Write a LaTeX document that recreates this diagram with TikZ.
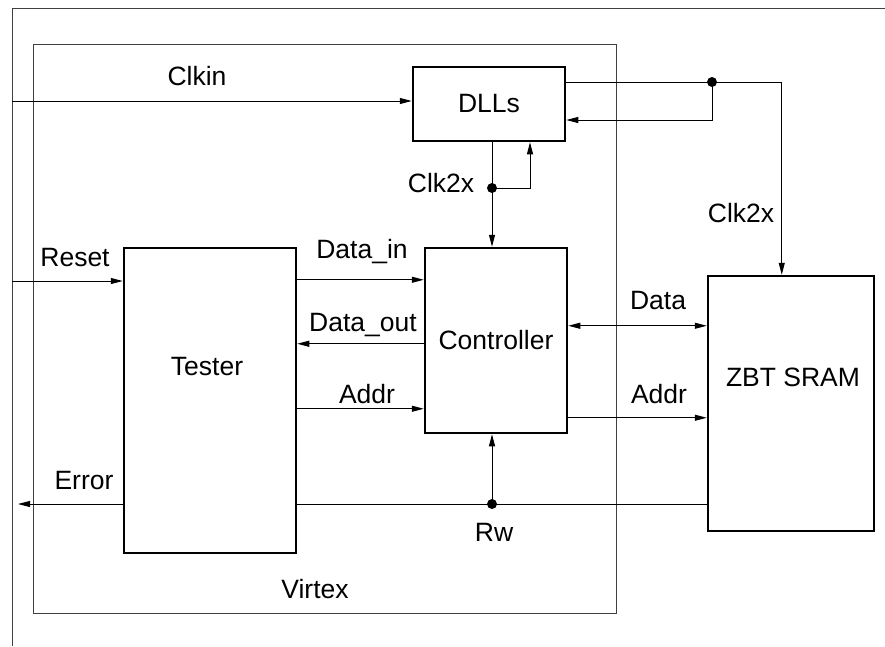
\documentclass[tikz,border=0pt]{standalone}
\usepackage{fontspec}
\setmainfont{Liberation Sans}
\usetikzlibrary{calc}
\usetikzlibrary{arrows.meta}

\begin{document}
\begin{tikzpicture}[line cap=butt,line join=miter,>={Triangle[length=12pt,width=6pt]},x=1pt,y=-1pt]
\tikzset{blk/.style={draw,line width=2.5pt,inner sep=0pt},
  sig/.style={line width=1pt},
  lbl/.style={font=\fontsize{26.5}{30}\selectfont,inner sep=0pt},
  jdot/.style={circle,fill=black,inner sep=0pt,minimum size=10pt}}
\useasboundingbox (0,0) rectangle (885,646);
% frame and chip outline
\draw [line width=1pt,color=black!75] (885,8) -- (12,8) -- (12,646);
\node [draw,line width=1pt,color=black!75,minimum width=583pt,minimum height=569pt] (virtex) at (324.5,328.5) {};
% blocks
\node [blk,lbl,minimum width=152pt,minimum height=74pt] (dlls) at (489,104) {DLLs};
\node [blk,lbl,minimum width=142pt,minimum height=185pt] (ctrl) at (496,340.5) {Controller};
\node [blk,minimum width=172pt,minimum height=305pt] (tester) at (210,400.5) {};
\node [blk,minimum width=166pt,minimum height=255pt] (sram) at (791,403.5) {};
\node [lbl] (testerlbl) at (207,367) {Tester};
\node [lbl] (sramlbl) at (793,377) {ZBT SRAM};
\node [lbl] (virtexlbl) at (315,589) {Virtex};
% clock in
\coordinate (clkin) at (12,101);
\draw [sig,->] (clkin) -- (clkin -| dlls.west);
\node [lbl] (clkinlbl) at (197,76) {Clkin};
% clock out of the DLLs, to the SRAM and back
\coordinate (clkdot) at (712,82);
\draw [sig] (dlls.east |- clkdot) -- (clkdot);
\draw [sig,->] (clkdot) -| ($(sram.north west)+(75,0)$);
\draw [sig,->] (clkdot) |- ($(dlls.east)+(0,16)$);
\node [lbl] (clkoutlbl) at (741,213) {Clk2x};
% clock to the controller
\coordinate (k2x) at (492,188);
\draw [sig] (dlls.south -| k2x) -- (k2x);
\draw [sig,->] (k2x) -- (k2x |- ctrl.north);
\draw [sig,->] (k2x) -| ($(dlls.south)+(41,0)$);
\node [lbl] (k2xlbl) at (441,183) {Clk2x};
% tester signals
\coordinate (rst) at (12,281);
\draw [sig,->] (rst) -- (rst -| tester.west);
\node [lbl] (rstlbl) at (75,258) {Reset};
\draw [sig,->] ($(tester.north east)+(0,33)$) -- ($(ctrl.north west)+(0,33)$);
\node [lbl] (dinlbl) at (362,252) {Data\_in};
\draw [sig,->] ($(ctrl.north west)+(0,97)$) -- ($(tester.north east)+(0,97)$);
\node [lbl] (doutlbl) at (363,325) {Data\_out};
\draw [sig,->] ($(tester.north east)+(0,162)$) -- ($(ctrl.north west)+(0,162)$);
\node [lbl] (addrlbl) at (367,394) {Addr};
% memory signals
\coordinate (mdata) at ($(ctrl.north east)+(0,79)$);
\coordinate (maddr) at ($(ctrl.north east)+(0,171)$);
\draw [sig,<->] (mdata) -- (mdata -| sram.west);
\node [lbl] (datalbl) at (658,301) {Data};
\draw [sig,->] (maddr) -- (maddr -| sram.west);
\node [lbl] (maddrlbl) at (659,394) {Addr};
% read/write line
\coordinate (rwdot) at (492,504);
\draw [sig] (sram.west |- rwdot) -- (tester.east |- rwdot);
\draw [sig,->] (rwdot) -- (rwdot |- ctrl.south);
\node [lbl] (rwlbl) at (494,532) {Rw};
% error out
\coordinate (err) at (18,504);
\draw [sig,->] (tester.west |- err) -- (err);
\node [lbl] (errlbl) at (84,481) {Error};
% junctions
\fill (clkdot) circle (5pt);
\fill (k2x) circle (5pt);
\fill (rwdot) circle (5pt);
\end{tikzpicture}
\end{document}
